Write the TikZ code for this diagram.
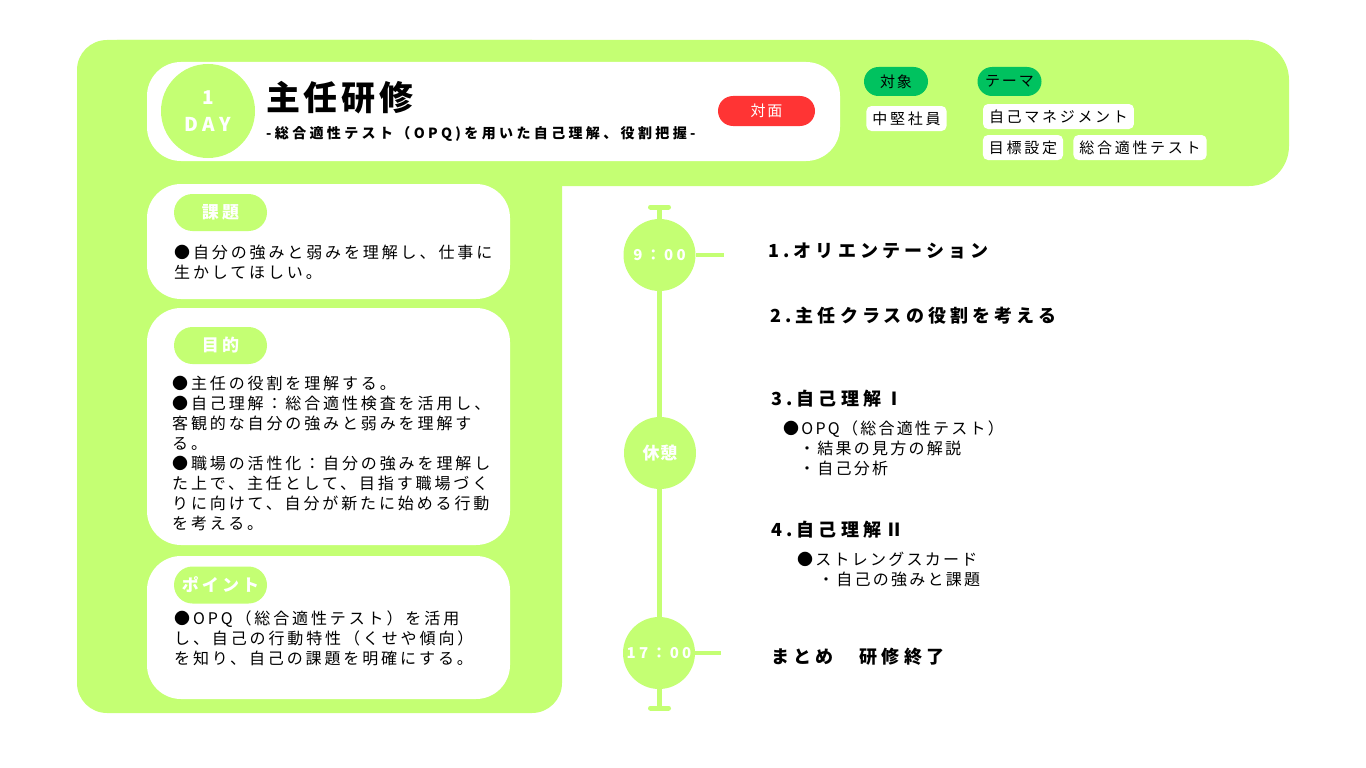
\documentclass[tikz,border=0pt]{standalone}
\usepackage{fontspec}
\setmainfont{Noto Sans CJK JP}[LetterSpace=18]
\usetikzlibrary{positioning}
\definecolor{leaf}{HTML}{C4FF73}
\definecolor{tagGreen}{HTML}{00C25F}
\definecolor{tagRed}{HTML}{FF3434}
\newcommand{\fs}[2]{\fontsize{#1}{#2}\selectfont}
\tikzset{
  panel/.style={fill=white, rounded corners=34},
  head pill/.style={fill=leaf, rounded corners=18.5, minimum width=93, minimum height=37,
    inner sep=0, text=white, font=\bfseries\fs{17}{20}},
  tag/.style={fill=white, rounded corners=5, minimum height=25, inner xsep=6, inner ysep=0,
    font=\fs{15}{18}\addfontfeatures{LetterSpace=18}},
  kind/.style={fill=tagGreen, rounded corners=14.5, minimum width=64, minimum height=29,
    inner sep=0, font=\fs{15}{18}\addfontfeatures{LetterSpace=12}},
  body/.style={anchor=north west, inner sep=0, align=left, font=\fs{16}{20}},
  step head/.style={anchor=west, inner sep=0, font=\bfseries\fs{18}{22}\addfontfeatures{LetterSpace=23}},
  time dot/.style={circle, fill=leaf, minimum size=72, inner sep=0, text=white,
    font=\bfseries\fs{15}{18}\addfontfeatures{LetterSpace=22}},
  rail/.style={leaf, line width=5.5},
}
\begin{document}
\begin{tikzpicture}[x=1pt, y=-1pt]
  \useasboundingbox (0,0) rectangle (1366,768);
  % green frame
  \fill[leaf, rounded corners=40] (77,40) rectangle (1289,186);
  \fill[leaf, rounded corners=30] (77,40) rectangle (562,713);
  % header
  \fill[panel] (147,62) rectangle (840,161);
  \node[circle, fill=leaf, minimum size=94, inner sep=0, text=white, align=center,
    font=\bfseries\fs{19}{27}\addfontfeatures{LetterSpace=25}] (day) at (208,111) {1\\DAY};
  \node[anchor=west, inner sep=0, font=\bfseries\fs{34}{40}\addfontfeatures{LetterSpace=11}] (title) at (266,98) {主任研修};
  \node[anchor=west, inner sep=0, font=\bfseries\fs{14}{18}\addfontfeatures{LetterSpace=24}] (subtitle) at (266,134)
    {-総合適性テスト（OPQ)を用いた自己理解、役割把握-};
  \node[fill=tagRed, rounded corners=15, minimum width=97, minimum height=30, inner sep=0, text=white,
    font=\fs{15}{18}\addfontfeatures{LetterSpace=12}] (mode) at (766.5,111) {対面};
  % target and theme
  \node[kind] (target) at (896,81.5) {対象};
  \node[kind] (theme) at (1009.5,81.5) {テーマ};
  \node[tag] (staff) at (906.5,118.5) {中堅社員};
  \node[tag] (selfmgmt) at (1058.5,116.5) {自己マネジメント};
  \node[tag] (goal) at (1023,147.5) {目標設定};
  \node[tag, right=10 of goal] (test) {総合適性テスト};
  % left panels
  \fill[panel] (147,184) rectangle (510,299);
  \node[head pill] (issueTag) at (220.5,212.5) {課題};
  \node[body] (issue) at (174,244.5) {●自分の強みと弱みを理解し、仕事に\\生かしてほしい。};
  \fill[panel] (147,308) rectangle (510,545);
  \node[head pill] (aimTag) at (220.5,345.5) {目的};
  \node[body] (aim) at (172,375.5) {●主任の役割を理解する。\\
    ●自己理解：総合適性検査を活用し、\\客観的な自分の強みと弱みを理解す\\る。\\
    ●職場の活性化：自分の強みを理解し\\た上で、主任として、目指す職場づく\\
    りに向けて、自分が新たに始める行動\\を考える。};
  \fill[panel] (147,556) rectangle (510,699);
  \node[head pill] (pointTag) at (220.5,585) {ポイント};
  \node[body] (point) at (174,610.5) {●OPQ（総合適性テスト）を活用\\
    し、自己の行動特性（くせや傾向）\\を知り、自己の課題を明確にする。};
  % timeline
  \coordinate (railTop) at (659.5,207);
  \coordinate (railEnd) at (659.5,708);
  \draw[rail] (railTop) -- (railEnd);
  \draw[leaf, line width=5, line cap=round] ([xshift=-9]railTop) -- ([xshift=9]railTop);
  \draw[leaf, line width=5, line cap=round] ([xshift=-9]railEnd) -- ([xshift=9]railEnd);
  \node[time dot] (start) at (659.5,255) {9：00};
  \node[time dot, font=\bfseries\fs{17}{20}\addfontfeatures{LetterSpace=5}] (break) at (660,453) {休憩};
  \node[time dot] (finish) at (659,653) {17：00};
  \coordinate (startTick) at (724,255);
  \coordinate (finishTick) at (721,653);
  \draw[leaf, line width=4] (start.east) -- (startTick);
  \draw[leaf, line width=4] (finish.east) -- (finishTick);
  % programme
  \node[step head] (step1) at (768,251) {1.オリエンテーション};
  \node[step head] (step2) at (770,316) {2.主任クラスの役割を考える};
  \node[step head] (step3) at (771,399) {3.自己理解Ⅰ};
  \node[body, font=\fs{16}{20}\addfontfeatures{LetterSpace=14}] (step3note) at (783,420.5)
    {●OPQ（総合適性テスト）\\\hspace*{16pt}・結果の見方の解説\\\hspace*{16pt}・自己分析};
  \node[step head] (step4) at (771,530) {4.自己理解Ⅱ};
  \node[body, font=\fs{16}{20}\addfontfeatures{LetterSpace=14}] (step4note) at (797,551.5)
    {●ストレングスカード\\\hspace*{21pt}・自己の強みと課題};
  \node[step head] (closing) at (771,657) {まとめ　研修終了};
\end{tikzpicture}
\end{document}
